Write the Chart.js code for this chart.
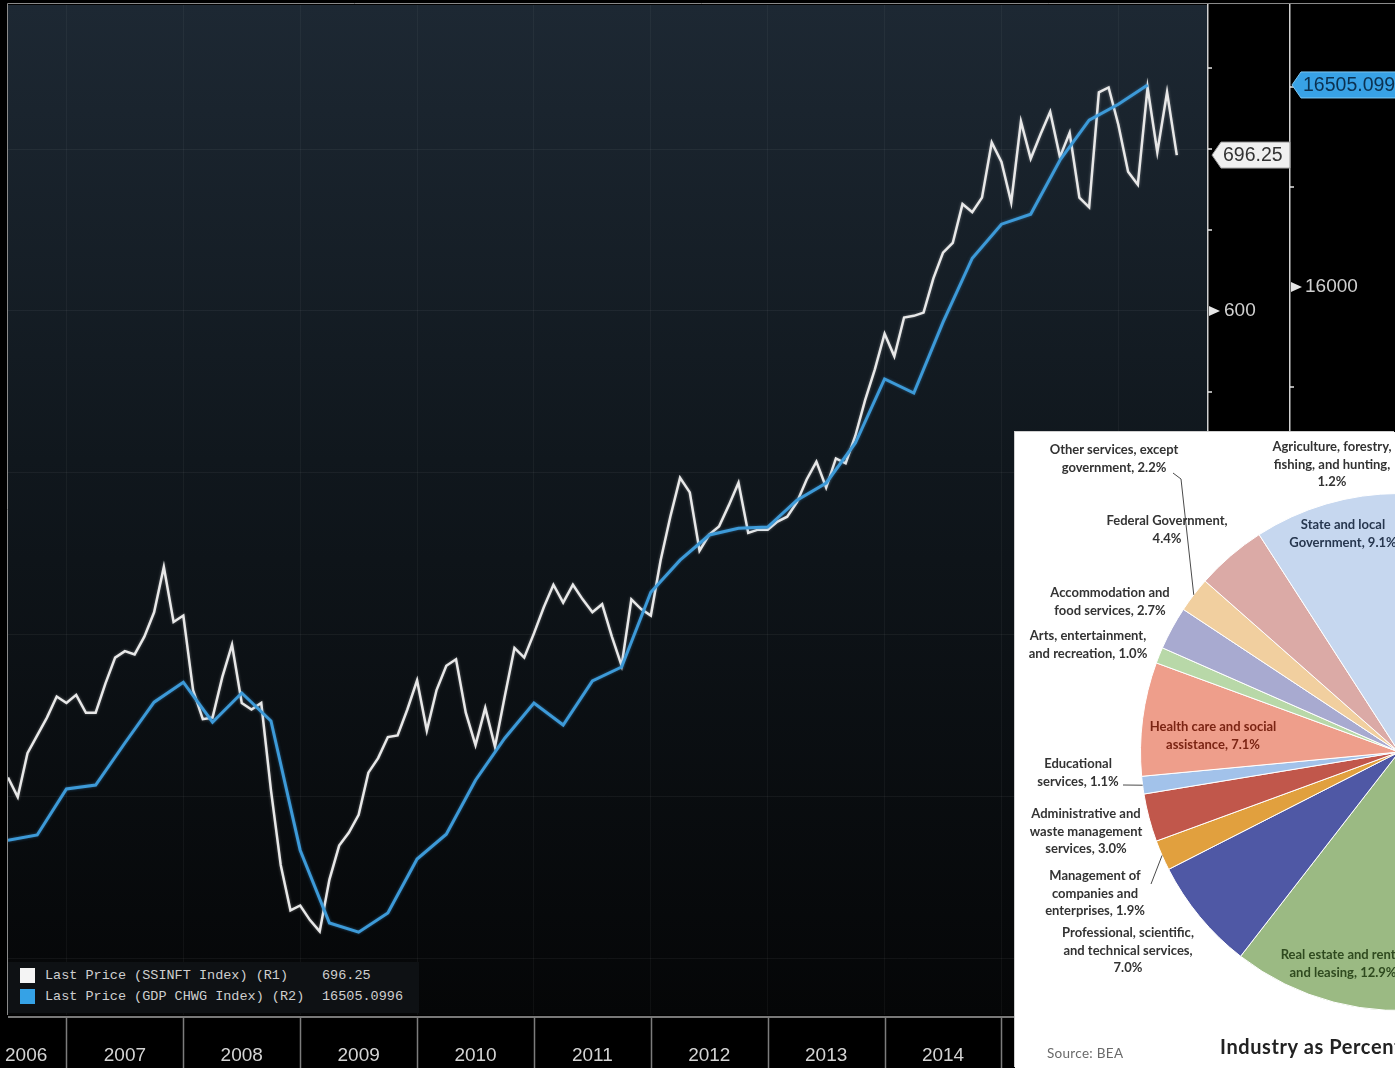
<!DOCTYPE html>
<html>
<head>
<meta charset="utf-8">
<script src="https://cdn.jsdelivr.net/npm/chart.js@4.4.1/dist/chart.umd.min.js"></script>
<style>
  html, body { margin: 0; padding: 0; background: #000; width: 1395px; height: 1068px; overflow: hidden; }
  #main { position: absolute; left: 0; top: 0; }
  #legend { position: absolute; left: 8px; top: 962px; width: 411px; height: 51px; background: #0e1114;
    font: 13.5px "Liberation Mono", monospace; color: #cfcfcf; }
  #legend .row { position: absolute; left: 0; height: 19px; line-height: 19px; width: 100%; }
  #legend .sw { position: absolute; left: 12px; top: 2px; width: 15px; height: 15px; }
  #legend .lab { position: absolute; left: 37px; }
  #legend .val { position: absolute; left: 314px; }
  #piePanel { position: absolute; left: 1015px; top: 432px; width: 380px; height: 636px; background: #fff;
    overflow: hidden; box-shadow: -1px -1px 0 #cfcfcf; }
  #pieWrap { position: absolute; left: 84px; top: 20px; width: 600px; height: 600px; }
  .pl { position: absolute; transform: translateX(-50%); text-align: center; white-space: nowrap;
    font: 700 13px/17.5px Lato, "Liberation Sans", sans-serif; color: #333; }
  .src { position: absolute; left: 32px; top: 613px; font: 13.5px Lato, sans-serif; letter-spacing: 0.3px; color: #6a6a6a; }
  .ttl { position: absolute; left: 205px; top: 602px; font: 700 20px Lato, sans-serif; letter-spacing: 0.6px; color: #222; white-space: nowrap; }
</style>
</head>
<body>
<canvas id="main" width="1395" height="1068"></canvas>

<div id="legend">
  <div class="row" style="top:4px"><span class="sw" style="background:#f4f4f4"></span><span class="lab">Last Price (SSINFT Index) (R1)</span><span class="val" id="v1"></span></div>
  <div class="row" style="top:25px"><span class="sw" style="background:#35a2e6"></span><span class="lab">Last Price (GDP CHWG Index) (R2)</span><span class="val" id="v2"></span></div>
</div>

<div id="piePanel">
  <div id="pieWrap"><canvas id="pie" width="600" height="600"></canvas></div>
  <div class="pl" style="left:99px;top:9px">Other services, except<br>government, 2.2%</div>
  <div class="pl" style="left:317px;top:6px">Agriculture, forestry,<br>fishing, and hunting,<br>1.2%</div>
  <div class="pl" style="left:152px;top:80px">Federal Government,<br>4.4%</div>
  <div class="pl" style="left:328px;top:84px;color:#27374f">State and local<br>Government, 9.1%</div>
  <div class="pl" style="left:95px;top:152px">Accommodation and<br>food services, 2.7%</div>
  <div class="pl" style="left:73px;top:195px">Arts, entertainment,<br>and recreation, 1.0%</div>
  <div class="pl" style="left:198px;top:286px;color:#7b2413">Health care and social<br>assistance, 7.1%</div>
  <div class="pl" style="left:63px;top:323px">Educational<br>services, 1.1%</div>
  <div class="pl" style="left:71px;top:373px">Administrative and<br>waste management<br>services, 3.0%</div>
  <div class="pl" style="left:80px;top:435px">Management of<br>companies and<br>enterprises, 1.9%</div>
  <div class="pl" style="left:113px;top:492px">Professional, scientific,<br>and technical services,<br>7.0%</div>
  <div class="pl" style="left:328px;top:514px;color:#2f4a1f">Real estate and rental<br>and leasing, 12.9%</div>
  <div class="ttl">Industry as Percent of GDP</div>
  <div class="src">Source: BEA</div>
</div>

<script>
// S&P 500 IT index, month ends from Jun 2006
const ssinftStart = 2006.5;
const ssinft = [
  312, 300, 327, 338, 349, 362, 358, 363, 352, 352, 370, 386,
  390, 388, 399, 414, 442, 408, 412, 366, 348, 349, 374, 394,
  358, 354, 358, 304, 258, 230, 233, 224, 217, 249, 270, 278,
  289, 315, 324, 337, 338, 354, 372, 341, 366, 381, 385, 352,
  332, 355, 331, 362, 392, 386, 401, 417, 431, 420, 431, 422,
  414, 419, 399, 381, 422, 416, 412, 446, 473, 497, 488, 452,
  462, 467, 480, 494, 463, 465, 465, 470, 473, 482, 496, 507,
  491, 509, 506, 523, 545, 564, 586, 572, 596, 597, 599, 620,
  636, 642, 666, 661, 670, 704, 692, 667, 717, 694, 709, 723,
  695, 710, 670, 664, 735, 738, 715, 686, 678, 738, 698, 735,
  696.25
];

// real GDP, quarter ends from Q2 2006
const gdpStart = 2006.5;
const gdp = [
  14617, 14630, 14745, 14755, 14860, 14962, 15012, 14912, 14985, 14915,
  14592, 14410, 14387, 14435, 14570, 14632, 14767, 14872, 14960, 14905,
  15015, 15050, 15237, 15317, 15380, 15397, 15400, 15467, 15510, 15610,
  15770, 15735, 15912, 16072, 16157, 16182, 16317, 16417, 16457, 16505.0996
];

const yearLabels = ['2006', '2007', '2008', '2009', '2010', '2011', '2012', '2013', '2014', '2015', '2016'];
const r1Ticks = [200, 250, 300, 350, 400, 450, 500, 550, 600, 650, 700, 750];
const r2Ticks = [14250, 14500, 14750, 15000, 15250, 15500, 15750, 16000, 16250, 16500];

const industries = [
  'Agriculture, forestry, fishing, and hunting', 'Mining', 'Utilities', 'Construction', 'Manufacturing',
  'Wholesale trade', 'Retail trade', 'Transportation and warehousing', 'Information', 'Finance and insurance',
  'Real estate and rental and leasing', 'Professional, scientific, and technical services',
  'Management of companies and enterprises', 'Administrative and waste management services',
  'Educational services', 'Health care and social assistance', 'Arts, entertainment, and recreation',
  'Accommodation and food services', 'Other services, except government', 'Federal Government',
  'State and local Government'
];
const shares = [1.2, 2.6, 1.6, 3.7, 12.1, 6.0, 5.8, 3.0, 4.8, 6.8, 12.9, 7.0, 1.9, 3.0, 1.1, 7.1, 1.0, 2.7, 2.2, 4.4, 9.1];
const industryColors = [
  '#b3a2c7', '#93cddd', '#fac090', '#8eb4e3', '#d99694', '#c3d69b', '#b3a2c7', '#93cddd', '#fac090', '#7f9fd0',
  '#9bba83', '#4f58a5', '#e1a03e', '#c1574b', '#a2c2ea', '#ee9e8b', '#b8d8a8', '#a8aad0', '#f1cf9f', '#dbaaa6',
  '#c6d7ef'
];

const WHITE = '#e8e8e8';
const BLUE = '#3d9ad8';
const lastWhite = ssinft[ssinft.length - 1];
const lastBlue = gdp[gdp.length - 1];

document.getElementById('v1').textContent = lastWhite.toFixed(2);
document.getElementById('v2').textContent = String(lastBlue);

const AXIS_FONT = '19px "Liberation Sans", Arial, sans-serif';

function valueBox(ctx, x, y, w, text, fill, stroke, color) {
  ctx.beginPath();
  ctx.moveTo(x, y);
  ctx.lineTo(x + 9, y - 13);
  ctx.lineTo(x + w, y - 13);
  ctx.lineTo(x + w, y + 13);
  ctx.lineTo(x + 9, y + 13);
  ctx.closePath();
  ctx.fillStyle = fill;
  ctx.fill();
  ctx.strokeStyle = stroke;
  ctx.lineWidth = 1;
  ctx.stroke();
  ctx.fillStyle = color;
  ctx.font = '19.5px "Liberation Sans", Arial, sans-serif';
  ctx.textAlign = 'left';
  ctx.textBaseline = 'middle';
  ctx.fillText(text, x + 11, y + 1);
}

// strip the half-label padding Chart.js reserves above/below vertical axes
function fitWidth(w) {
  return (s) => {
    s.width = w;
    s.paddingTop = 0;
    s.paddingBottom = 0;
  };
}

const frame = {
  id: 'frame',
  beforeDraw(chart) {
    const { ctx, chartArea: a } = chart;
    ctx.save();
    ctx.fillStyle = '#000';
    ctx.fillRect(0, 0, chart.width, chart.height);
    const g = ctx.createLinearGradient(0, a.top, 0, a.bottom);
    g.addColorStop(0, '#1d2833');
    g.addColorStop(0.45, '#10171d');
    g.addColorStop(1, '#050607');
    ctx.fillStyle = g;
    ctx.fillRect(a.left, a.top, a.right - a.left, a.bottom - a.top);
    ctx.restore();
  },
  beforeDatasetDraw(chart, args) {
    const ctx = chart.ctx;
    ctx.save();
    ctx.shadowBlur = 3;
    ctx.shadowColor = args.index === 0 ? 'rgba(60,150,215,0.5)' : 'rgba(255,255,255,0.35)';
  },
  afterDatasetDraw(chart) {
    chart.ctx.restore();
  },
  afterDraw(chart) {
    const { ctx, chartArea: a } = chart;
    const xs = chart.scales.x;
    ctx.save();

    // plot frame
    ctx.strokeStyle = '#8a8a8a';
    ctx.lineWidth = 1;
    ctx.beginPath();
    ctx.moveTo(7.5, a.bottom);
    ctx.lineTo(7.5, 3.5);
    ctx.lineTo(chart.width, 3.5);
    ctx.stroke();

    // time axis
    const base = a.bottom + 2;
    ctx.strokeStyle = '#a0a0a0';
    ctx.lineWidth = 1.5;
    ctx.beginPath();
    ctx.moveTo(a.left, base);
    ctx.lineTo(chart.width, base);
    ctx.stroke();
    ctx.font = AXIS_FONT;
    ctx.fillStyle = '#d4d4d4';
    ctx.textBaseline = 'middle';
    yearLabels.forEach((lbl) => {
      const yr = Number(lbl);
      const x0 = xs.getPixelForValue(yr);
      const x1 = xs.getPixelForValue(yr + 1);
      if (x0 > a.left && x0 < a.right) {
        ctx.strokeStyle = '#7c7c7c';
        ctx.lineWidth = 1.5;
        ctx.beginPath();
        ctx.moveTo(Math.round(x0) + 0.5, base);
        ctx.lineTo(Math.round(x0) + 0.5, chart.height);
        ctx.stroke();
      }
      const l = Math.max(x0, a.left);
      const r = Math.min(x1, a.right);
      if (r <= l) return;
      if (x0 < a.left) {
        // partial first year: label hugs the left edge
        ctx.textAlign = 'left';
        ctx.fillText(lbl, 5, base + 39);
      } else {
        ctx.textAlign = 'center';
        ctx.fillText(lbl, (l + r) / 2, base + 39);
      }
    });

    // right-axis tick marks
    ['y1', 'y2'].forEach((id) => {
      const s = chart.scales[id];
      s.ticks.forEach((t) => {
        const py = s.getPixelForValue(t.value);
        if (py < a.top || py > a.bottom) return;
        ctx.fillStyle = '#e6e6e6';
        ctx.strokeStyle = '#e6e6e6';
        if (t.label) {
          ctx.beginPath();
          ctx.moveTo(s.left + 1, py - 5);
          ctx.lineTo(s.left + 12, py);
          ctx.lineTo(s.left + 1, py + 5);
          ctx.closePath();
          ctx.fill();
        } else {
          ctx.lineWidth = 1.5;
          ctx.beginPath();
          ctx.moveTo(s.left, py);
          ctx.lineTo(s.left + 4, py);
          ctx.stroke();
        }
      });
    });

    // last value boxes
    const s1 = chart.scales.y1;
    const s2 = chart.scales.y2;
    valueBox(ctx, s1.left + 4, s1.getPixelForValue(lastWhite), 78, lastWhite.toFixed(2), '#f0f0f0', '#9a9a9a', '#333');
    valueBox(ctx, s2.left + 2, s2.getPixelForValue(lastBlue), 130, String(lastBlue), '#38a2e6', '#7cc6f2', '#0c3150');
    ctx.restore();
  }
};

new Chart(document.getElementById('main'), {
  type: 'line',
  data: {
    datasets: [
      {
        label: 'Last Price (GDP CHWG Index) (R2)',
        data: gdp.map((v, i) => ({ x: gdpStart + i / 4, y: v })),
        yAxisID: 'y2',
        borderColor: BLUE,
        borderWidth: 3,
        pointRadius: 0,
        tension: 0,
        order: 0,
      },
      {
        label: 'Last Price (SSINFT Index) (R1)',
        data: ssinft.map((v, i) => ({ x: ssinftStart + i / 12, y: v })),
        yAxisID: 'y1',
        borderColor: WHITE,
        borderWidth: 2.5,
        pointRadius: 0,
        tension: 0,
        order: 1,
      },
    ],
  },
  options: {
    responsive: false,
    animation: false,
    events: [],
    layout: { padding: { left: 8, top: 5, right: 0, bottom: 0 } },
    plugins: { legend: { display: false }, tooltip: { enabled: false } },
    scales: {
      x: {
        type: 'linear',
        min: 2006.5,
        max: 2016.767,
        afterFit: (s) => { s.height = 53; s.paddingLeft = 0; s.paddingRight = 0; },
        afterBuildTicks: (s) => { s.ticks = yearLabels.map((y) => ({ value: Number(y) })); },
        ticks: { display: false },
        grid: { color: 'rgba(255,255,255,0.045)', drawTicks: false },
        border: { display: false },
      },
      y1: {
        type: 'linear',
        position: 'right',
        weight: 0,
        min: 165.4,
        max: 788.9,
        afterFit: fitWidth(82),
        afterBuildTicks: (s) => { s.ticks = r1Ticks.map((v) => ({ value: v })); },
        ticks: {
          autoSkip: false,
          padding: 16,
          color: '#d0d0d0',
          font: { family: '"Liberation Sans", Arial, sans-serif', size: 19 },
          callback: (v) => (v % 100 === 0 && Math.abs(v - lastWhite) > 25 ? String(v) : ''),
        },
        grid: {
          drawTicks: false,
          color: (c) => (c.tick && c.tick.value % 100 === 0 ? 'rgba(255,255,255,0.05)' : 'transparent'),
        },
        border: { display: true, color: '#d0d0d0', width: 1.5 },
      },
      y2: {
        type: 'linear',
        position: 'right',
        weight: 1,
        min: 14180,
        max: 16705,
        afterFit: fitWidth(105),
        afterBuildTicks: (s) => { s.ticks = r2Ticks.map((v) => ({ value: v })); },
        ticks: {
          autoSkip: false,
          padding: 15,
          color: '#d0d0d0',
          font: { family: '"Liberation Sans", Arial, sans-serif', size: 19 },
          callback: (v) => (v % 500 === 0 && Math.abs(v - lastBlue) > 60 ? String(v) : ''),
        },
        grid: { drawOnChartArea: false, drawTicks: false },
        border: { display: true, color: '#d0d0d0', width: 1.5 },
      },
    },
  },
  plugins: [frame],
});

// pie: canvas origin on the page, used to place leader lines
const PIE_LEFT = 1015 + 84;
const PIE_TOP = 432 + 20;
const leaderPaths = [
  { index: 18, path: [[1181, 479], [1173, 473]] },
  { index: 14, path: [[1123, 785]] },
  { index: 12, path: [[1151, 884]] },
];

const leaders = {
  id: 'leaders',
  afterDraw(chart) {
    const ctx = chart.ctx;
    const arcs = chart.getDatasetMeta(0).data;
    ctx.save();
    ctx.strokeStyle = '#4a4a4a';
    ctx.lineWidth = 1;
    leaderPaths.forEach((lp) => {
      const p = arcs[lp.index].getProps(['x', 'y', 'startAngle', 'endAngle', 'outerRadius'], true);
      const mid = (p.startAngle + p.endAngle) / 2;
      ctx.beginPath();
      ctx.moveTo(p.x + Math.cos(mid) * p.outerRadius, p.y + Math.sin(mid) * p.outerRadius);
      lp.path.forEach(([px, py]) => ctx.lineTo(px - PIE_LEFT, py - PIE_TOP));
      ctx.stroke();
    });
    ctx.restore();
  },
};

new Chart(document.getElementById('pie'), {
  type: 'pie',
  data: {
    labels: industries,
    datasets: [{ data: shares, backgroundColor: industryColors, borderColor: '#ffffff', borderWidth: 1 }],
  },
  options: {
    responsive: false,
    animation: false,
    events: [],
    layout: { padding: 41 },
    plugins: { legend: { display: false }, tooltip: { enabled: false } },
  },
  plugins: [leaders],
});
</script>
</body>
</html>
